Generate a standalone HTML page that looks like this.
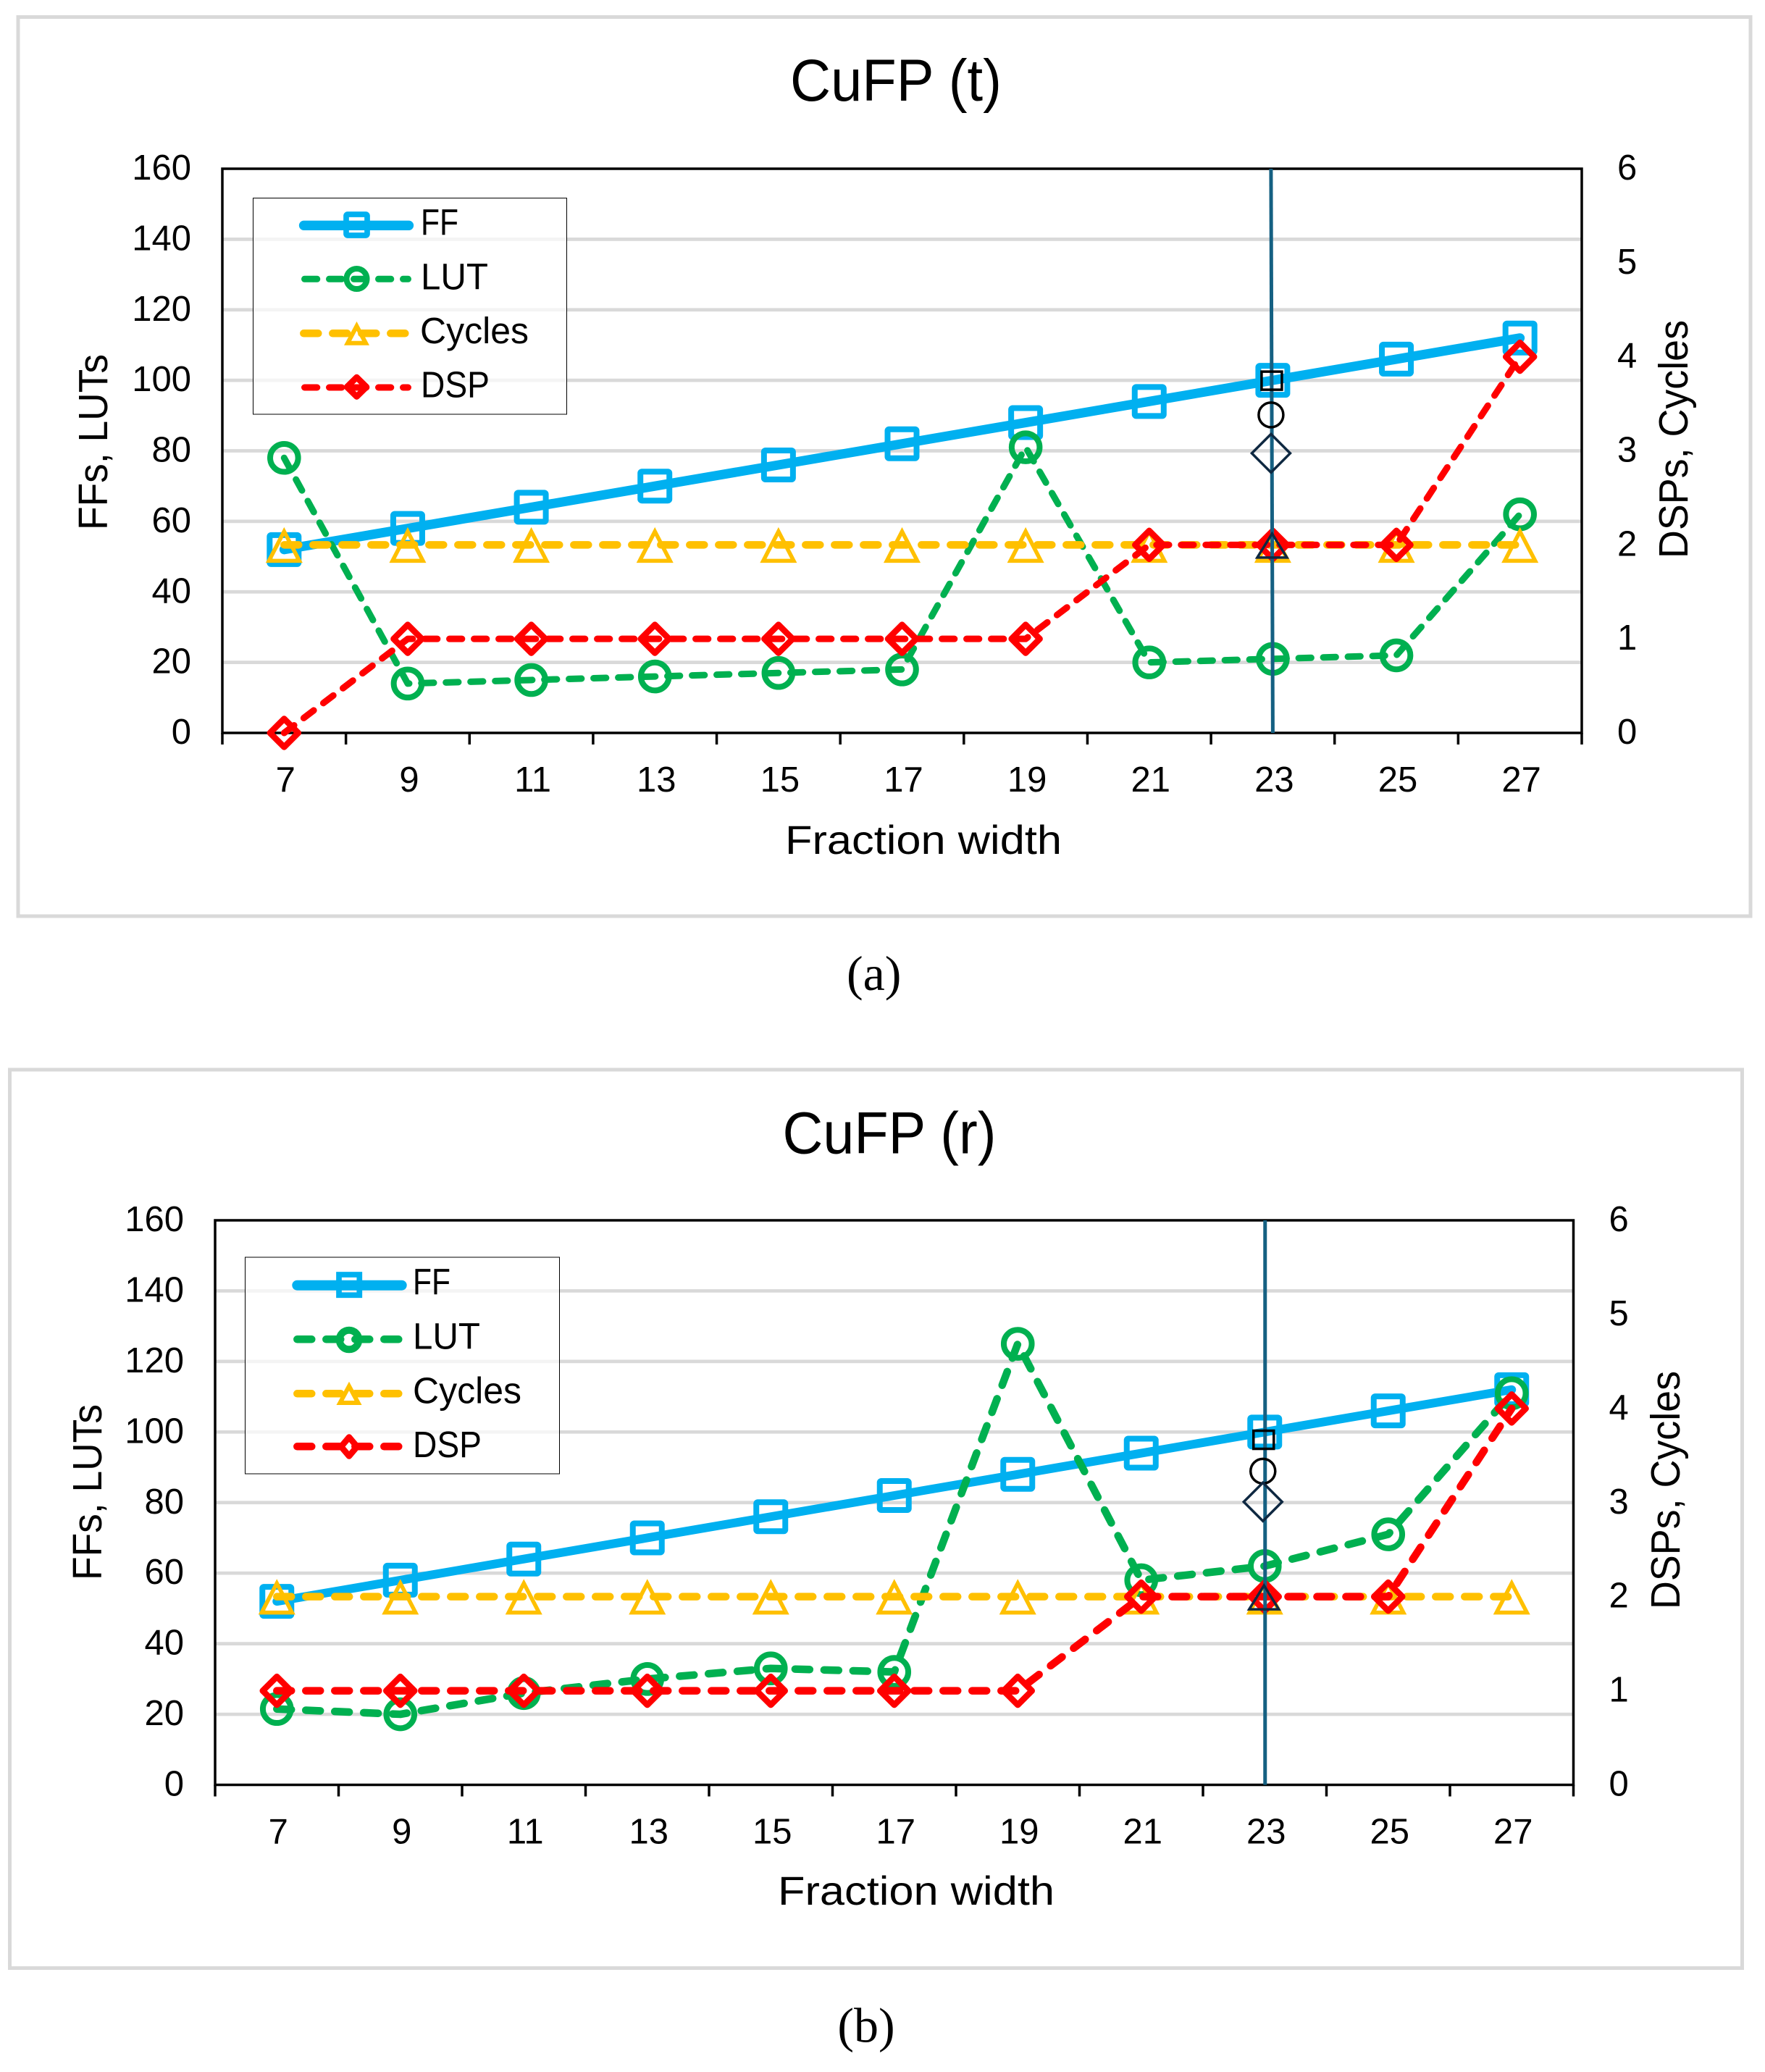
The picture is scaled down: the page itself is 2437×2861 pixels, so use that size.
<!DOCTYPE html>
<html lang="en">
<head>
<meta charset="utf-8">
<title>CuFP charts</title>
<style>
html,body{margin:0;padding:0;background:#fff;}
svg{display:block;}
text{font-family:"Liberation Sans",sans-serif;fill:#000;}
.caption{font-family:"Liberation Serif",serif;}
</style>
</head>
<body>
<svg id="figure" xmlns="http://www.w3.org/2000/svg" width="2437" height="2861" viewBox="0 0 2437 2861">
  <rect x="0" y="0" width="2437" height="2861" fill="#fff"/>

  <rect x="25" y="23.5" width="2392" height="1241.5" fill="#fff" stroke="#d9d9d9" stroke-width="5"/>
  <text x="1091" y="139" font-size="82" textLength="292" lengthAdjust="spacingAndGlyphs">CuFP (t)</text>
  <g id="plot-a"></g>
  <text x="1084" y="1179" font-size="56" textLength="382" lengthAdjust="spacingAndGlyphs">Fraction width</text>
  <text transform="translate(148 732) rotate(-90)" x="0" y="0" font-size="57" textLength="243" lengthAdjust="spacingAndGlyphs">FFs, LUTs</text>
  <text transform="translate(2330 771) rotate(-90)" x="0" y="0" font-size="57" textLength="329" lengthAdjust="spacingAndGlyphs">DSPs, Cycles</text>

  <g>
    <rect x="349.5" y="273.5" width="433" height="298.5" fill="#fff" fill-opacity="0.7" stroke="#000" stroke-width="1"/>
    <g>
      <line x1="419.5" y1="311.3" x2="564.5" y2="311.3" stroke="#00B0F0" stroke-width="13.3" stroke-linecap="round"/>
      <rect x="478" y="296" width="29" height="29" rx="2" fill="none" stroke="#00B0F0" stroke-width="7.7"/>
      <text x="581" y="324.7" font-size="51" textLength="52" lengthAdjust="spacingAndGlyphs">FF</text>
    </g>
    <g>
      <line x1="420.5" y1="385.3" x2="563.5" y2="385.3" stroke="#00B050" stroke-width="9" stroke-linecap="round" stroke-dasharray="17.3 16.7"/>
      <circle cx="492.5" cy="385" r="14" fill="none" stroke="#00B050" stroke-width="8"/>
      <text x="581" y="399.3" font-size="51" textLength="93" lengthAdjust="spacingAndGlyphs">LUT</text>
    </g>
    <g>
      <line x1="419.3" y1="460.3" x2="559.8" y2="460.3" stroke="#FFC000" stroke-width="10.5" stroke-linecap="round" stroke-dasharray="20 20"/>
      <polygon points="492.5,450.3 505,473.7 480,473.7" fill="none" stroke="#FFC000" stroke-width="6"/>
      <text x="580" y="474" font-size="51" textLength="150" lengthAdjust="spacingAndGlyphs">Cycles</text>
    </g>
    <g>
      <line x1="420.5" y1="535" x2="563.5" y2="535" stroke="#FF0000" stroke-width="9" stroke-linecap="round" stroke-dasharray="17.3 16.7"/>
      <polygon points="492.5,521 506,534.3 492.5,547.6 479,534.3" fill="none" stroke="#FF0000" stroke-width="8.5" stroke-linejoin="round"/>
      <text x="581" y="548.3" font-size="51" textLength="95" lengthAdjust="spacingAndGlyphs">DSP</text>
    </g>
  </g>
  <text class="caption" x="1206.7" y="1367" font-size="68" text-anchor="middle">(a)</text>

  <rect x="13.5" y="1477" width="2392" height="1240.5" fill="#fff" stroke="#d9d9d9" stroke-width="5"/>
  <text x="1080.5" y="1592.5" font-size="82" textLength="295" lengthAdjust="spacingAndGlyphs">CuFP (r)</text>
  <g id="plot-b"></g>
  <text x="1074" y="2630" font-size="56" textLength="382" lengthAdjust="spacingAndGlyphs">Fraction width</text>
  <text transform="translate(140 2182) rotate(-90)" x="0" y="0" font-size="57" textLength="243" lengthAdjust="spacingAndGlyphs">FFs, LUTs</text>
  <text transform="translate(2319 2222) rotate(-90)" x="0" y="0" font-size="57" textLength="329" lengthAdjust="spacingAndGlyphs">DSPs, Cycles</text>

  <g>
    <rect x="338.5" y="1736" width="434" height="299" fill="#fff" fill-opacity="0.7" stroke="#000" stroke-width="1"/>
    <g>
      <line x1="410.3" y1="1774.7" x2="554.7" y2="1774.7" stroke="#00B0F0" stroke-width="14" stroke-linecap="round"/>
      <rect x="468" y="1760" width="28.3" height="28.3" fill="none" stroke="#00B0F0" stroke-width="7.7"/>
      <text x="570" y="1787.3" font-size="51" textLength="52" lengthAdjust="spacingAndGlyphs">FF</text>
    </g>
    <g>
      <line x1="410.3" y1="1849.3" x2="550.7" y2="1849.3" stroke="#00B050" stroke-width="10.5" stroke-linecap="round" stroke-dasharray="20 20"/>
      <circle cx="482" cy="1850" r="13.3" fill="none" stroke="#00B050" stroke-width="10"/>
      <text x="570" y="1862.7" font-size="51" textLength="93" lengthAdjust="spacingAndGlyphs">LUT</text>
    </g>
    <g>
      <line x1="410.3" y1="1924.3" x2="550.7" y2="1924.3" stroke="#FFC000" stroke-width="10.5" stroke-linecap="round" stroke-dasharray="20 20"/>
      <polygon points="482,1914 494.5,1937 469.5,1937" fill="none" stroke="#FFC000" stroke-width="6"/>
      <text x="570" y="1937.7" font-size="51" textLength="150" lengthAdjust="spacingAndGlyphs">Cycles</text>
    </g>
    <g>
      <line x1="410.3" y1="1997.3" x2="550.7" y2="1997.3" stroke="#FF0000" stroke-width="10.5" stroke-linecap="round" stroke-dasharray="20 20"/>
      <polygon points="482,1984.5 493,1997.5 482,2010.5 471,1997.5" fill="none" stroke="#FF0000" stroke-width="8.5" stroke-linejoin="round"/>
      <text x="570" y="2012" font-size="51" textLength="95" lengthAdjust="spacingAndGlyphs">DSP</text>
    </g>
  </g>
  <text class="caption" x="1196" y="2819.5" font-size="68" text-anchor="middle">(b)</text>
</svg>

<script>
// Chart data
const categories = [7, 9, 11, 13, 15, 17, 19, 21, 23, 25, 27];
const leftTicks = [0, 20, 40, 60, 80, 100, 120, 140, 160];
const rightTicks = [0, 1, 2, 3, 4, 5, 6];

const ffA = [52, 58, 64, 70, 76, 82, 88, 94, 100, 106, 112];
const lutA = [78, 14, 15, 16, 17, 18, 81, 20, 21, 22, 62];
const cyclesA = [2, 2, 2, 2, 2, 2, 2, 2, 2, 2, 2];
const dspA = [0, 1, 1, 1, 1, 1, 1, 2, 2, 2, 4];

const ffB = [52, 58, 64, 70, 76, 82, 88, 94, 100, 106, 112];
const lutB = [21.5, 20, 26, 30, 33, 32, 125, 58, 62, 71, 111];
const cyclesB = [2, 2, 2, 2, 2, 2, 2, 2, 2, 2, 2];
const dspB = [1, 1, 1, 1, 1, 1, 1, 2, 2, 2, 4];

// Highlighted reference point at fraction width 23
const highlightCategory = 23;
const highlightA = { ff: 99.9, lut: 90.2, dsp: 79.3, cycles: 2 };
const highlightB = { ff: 97.8, lut: 88.9, dsp: 80.2, cycles: 2 };

const SVG_NS = 'http://www.w3.org/2000/svg';

function make(tag, attrs, parent) {
  const el = document.createElementNS(SVG_NS, tag);
  for (const k in attrs) el.setAttribute(k, attrs[k]);
  parent.appendChild(el);
  return el;
}

function drawChart(root, g) {
  const band = (g.right - g.left) / categories.length;
  const xScale = (cat) => g.left + (categories.indexOf(cat) + 0.5) * band;
  const yLeft = (v) => g.bottom - (v / 160) * (g.bottom - g.top);
  const yRight = (v) => g.bottom - (v / 6) * (g.bottom - g.top);

  // gridlines
  leftTicks.forEach((t) => {
    if (t === 0 || t === 160) return;
    const el = make('line', { x1: g.left, x2: g.right, y1: yLeft(t), y2: yLeft(t), stroke: '#d9d9d9', 'stroke-width': 4.7 }, root);
    
    
  });

  // plot border
  const border = make('rect', { x: g.left, y: g.top, width: g.right - g.left, height: g.bottom - g.top, fill: 'none', stroke: '#000', 'stroke-width': 3.5 }, root);
  
  

  // x ticks at category boundaries
  for (let i = 0; i <= categories.length; i++) {
    const x = g.left + i * band;
    const tick = make('line', { x1: x, x2: x, y1: g.bottom, y2: g.bottom + 16, stroke: '#000', 'stroke-width': 3.5 }, root);
    
    
  }

  // tick labels
  categories.forEach((c) => {
    const t = make('text', { x: xScale(c) + 2, y: g.bottom + 81, 'font-size': 49, 'text-anchor': 'middle' }, root);
    t.textContent = String(c);
    
    
  });
  leftTicks.forEach((v) => {
    const t = make('text', { x: g.left - 43, y: yLeft(v) + 15, 'font-size': 49, 'text-anchor': 'end' }, root);
    t.textContent = String(v);
    
    
  });
  rightTicks.forEach((v) => {
    const t = make('text', { x: g.right + 49, y: yRight(v) + 15, 'font-size': 49 }, root);
    t.textContent = String(v);
    
    
  });

  const pts = (vals, y) => categories.map((c, i) => xScale(c) + ',' + y(vals[i])).join(' ');

  // FF series
  const ffGroup = make('g', {}, root);
  
  
  make('polyline', { points: pts(g.ff, yLeft), fill: 'none', stroke: '#00B0F0', 'stroke-width': g.ffWidth, 'stroke-linecap': 'round', 'stroke-linejoin': 'round' }, ffGroup);
  categories.forEach((c, i) => {
    const m = make('rect', { x: xScale(c) - 20, y: yLeft(g.ff[i]) - 20, width: 40, height: 40, rx: 2, fill: 'none', stroke: '#00B0F0', 'stroke-width': 8 }, ffGroup);
    
    
  });

  // LUT series
  const lutGroup = make('g', {}, root);
  
  
  make('polyline', { points: pts(g.lut, yLeft), fill: 'none', stroke: '#00B050', 'stroke-width': g.dashWidth, 'stroke-linecap': 'round', 'stroke-linejoin': 'round', 'stroke-dasharray': g.dash }, lutGroup);
  categories.forEach((c, i) => {
    const m = make('circle', { cx: xScale(c), cy: yLeft(g.lut[i]), r: 19.3, fill: 'none', stroke: '#00B050', 'stroke-width': 8 }, lutGroup);
    
    
  });

  // Cycles series (secondary axis)
  const cyGroup = make('g', {}, root);
  
  
  make('polyline', { points: pts(g.cycles, yRight), fill: 'none', stroke: '#FFC000', 'stroke-width': 10.5, 'stroke-linecap': 'round', 'stroke-dasharray': '20 20' }, cyGroup);
  categories.forEach((c, i) => {
    const x = xScale(c);
    const y = yRight(g.cycles[i]);
    const m = make('polygon', { points: x + ',' + (y - 18.5) + ' ' + (x + 21) + ',' + (y + 22) + ' ' + (x - 21) + ',' + (y + 22), fill: 'none', stroke: '#FFC000', 'stroke-width': 5.5 }, cyGroup);
    
    
  });

  // DSP series (secondary axis)
  const dspGroup = make('g', {}, root);
  
  
  make('polyline', { points: pts(g.dsp, yRight), fill: 'none', stroke: '#FF0000', 'stroke-width': g.dashWidth, 'stroke-linecap': 'round', 'stroke-linejoin': 'round', 'stroke-dasharray': g.dash }, dspGroup);
  categories.forEach((c, i) => {
    const x = xScale(c);
    const y = yRight(g.dsp[i]);
    const m = make('polygon', { points: x + ',' + (y - 19.5) + ' ' + (x + 19.5) + ',' + y + ' ' + x + ',' + (y + 19.5) + ' ' + (x - 19.5) + ',' + y, fill: 'none', stroke: '#FF0000', 'stroke-width': 8.5, 'stroke-linejoin': 'round' }, dspGroup);
    
    
  });

  // Highlight at width 23
  const hx = xScale(highlightCategory);
  const h = g.highlight;
  const hlGroup = make('g', {}, root);
  
  
  const vline = make('line', { x1: hx + g.lineDx, x2: hx + g.lineDx2, y1: g.top, y2: g.bottom, stroke: '#156082', 'stroke-width': 5 }, hlGroup);
  
  
  const sq = make('rect', { x: hx - 1.5 - 14, y: yLeft(h.ff) - 12.5, width: 28, height: 25, fill: 'none', stroke: '#000', 'stroke-width': 3.5 }, hlGroup);
  
  
  const ci = make('circle', { cx: hx - 2.5, cy: yLeft(h.lut), r: 17, fill: 'none', stroke: '#000', 'stroke-width': 3.5 }, hlGroup);
  
  
  const dx = hx - 2.5;
  const dy = yLeft(h.dsp);
  const di = make('polygon', { points: dx + ',' + (dy - 26.5) + ' ' + (dx + 26.5) + ',' + dy + ' ' + dx + ',' + (dy + 26.5) + ' ' + (dx - 26.5) + ',' + dy, fill: 'none', stroke: '#0E2841', 'stroke-width': 3.5 }, hlGroup);
  
  
  const tx = hx - 1;
  const ty = yRight(h.cycles);
  const tr = make('polygon', { points: tx + ',' + (ty - 15.5) + ' ' + (tx + 20.5) + ',' + (ty + 17.5) + ' ' + (tx - 20.5) + ',' + (ty + 17.5), fill: 'none', stroke: '#0E2841', 'stroke-width': 3.5 }, hlGroup);
  
  
}

// Legends sit after the plots in the document, so they overlay gridlines.
drawChart(document.getElementById('plot-a'), {
  left: 307, right: 2184, top: 233, bottom: 1012,
  ff: ffA, lut: lutA, cycles: cyclesA, dsp: dspA,
  highlight: highlightA, ffWidth: 13, dashWidth: 9, dash: '17.3 16.7', lineDx: -2.5, lineDx2: 0
});
drawChart(document.getElementById('plot-b'), {
  left: 297, right: 2172.5, top: 1685, bottom: 2464.5,
  ff: ffB, lut: lutB, cycles: cyclesB, dsp: dspB,
  highlight: highlightB, ffWidth: 12, dashWidth: 10.5, dash: '20 20', lineDx: 0.5, lineDx2: 0.5
});
</script>
</body>
</html>
